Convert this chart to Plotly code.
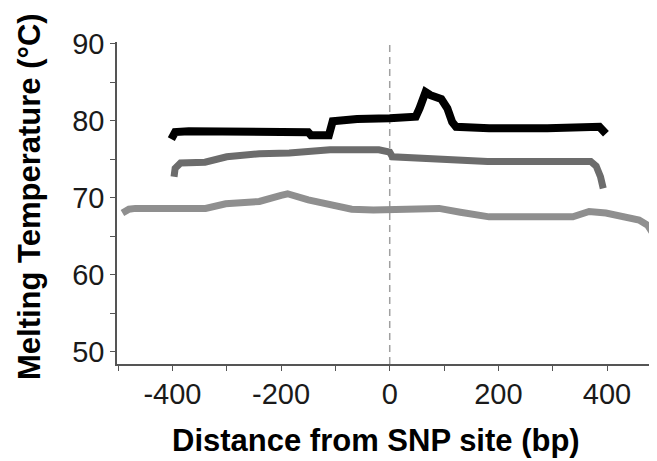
import plotly.graph_objects as go

# Series 1 (black)
black_x = [-402, -395, -370, -300, -150, -145, -112, -105, -60, 0, 48, 55, 66, 75, 95, 106, 115, 122, 183, 290, 386, 398]
black_y = [77.6, 78.5, 78.6, 78.5, 78.5, 78.1, 78.1, 79.9, 80.2, 80.3, 80.5, 81.6, 83.7, 83.3, 82.8, 81.6, 79.8, 79.2, 79.0, 79.0, 79.2, 78.3]

# Series 2 (dark gray)
dgray_x = [-397, -395, -385, -340, -300, -240, -185, -110, -20, 0, 5, 60, 100, 180, 370, 380, 388, 393]
dgray_y = [72.7, 73.8, 74.5, 74.6, 75.3, 75.7, 75.8, 76.2, 76.2, 75.9, 75.3, 75.1, 74.8, 74.7, 74.7, 74.1, 72.7, 71.2]

# Series 3 (light gray)
lgray_x = [-492, -480, -468, -400, -339, -302, -240, -200, -188, -150, -100, -70, -30, 0, 91, 130, 183, 337, 367, 398, 437, 459, 475, 484]
lgray_y = [68.0, 68.5, 68.6, 68.6, 68.6, 69.2, 69.5, 70.3, 70.5, 69.7, 68.9, 68.5, 68.4, 68.4, 68.6, 68.1, 67.5, 67.5, 68.2, 68.0, 67.5, 67.1, 66.4, 65.4]

x_tickvals = [-400, -200, 0, 200, 400]
x_ticktext = ["-400", "-200", "0", "200", "400"]
y_tickvals = [50, 60, 70, 80, 90]
y_ticktext = ["50", "60", "70", "80", "90"]

x_range = [-502, 492]
y_range = [48.4, 90.2]
x_title = "Distance from SNP site (bp)"
y_title = "Melting Temperature (°C)"

# page has an 8px body margin; figure coordinates are page coordinates minus 8
OFF = 8
W, H = 657 - OFF, 461 - OFF
ml, mr, mt, mb = 117 - OFF, 0, 42 - OFF, 461 - 364
pw, ph = W - ml - mr, H - mt - mb

fig = go.Figure()
fig.add_trace(go.Scatter(x=lgray_x, y=lgray_y, mode="lines",
                         line=dict(color="#8f8f8f", width=7), showlegend=False))
fig.add_trace(go.Scatter(x=dgray_x, y=dgray_y, mode="lines",
                         line=dict(color="#6c6c6c", width=7), showlegend=False))
fig.add_trace(go.Scatter(x=black_x, y=black_y, mode="lines",
                         line=dict(color="#000000", width=8), showlegend=False))

fig.add_shape(type="line", xref="x", yref="paper", x0=0, x1=0, y0=0, y1=1,
              line=dict(color="#a0a0a0", width=1.5, dash="7px,5px"), layer="below")

font = "Liberation Sans, Arial, sans-serif"
fig.update_layout(
    width=W, height=H,
    margin=dict(l=ml, r=mr, t=mt, b=mb),
    paper_bgcolor="white", plot_bgcolor="white",
    font=dict(family=font, color="#1a1a1a"),
    xaxis=dict(range=x_range, showgrid=False, zeroline=False,
               showline=True, linecolor="#555555", linewidth=1.5,
               ticks="outside", ticklen=5, tickwidth=1.2, tickcolor="#555555",
               tickmode="array", tickvals=x_tickvals, ticktext=x_ticktext,
               tickfont=dict(size=29, family=font),
               minor=dict(tick0=0, dtick=100, ticks="outside", ticklen=5, tickwidth=1.2, tickcolor="#555555"),
               ticklabelstandoff=-2),
    yaxis=dict(range=y_range, showgrid=False, zeroline=False,
               showline=True, linecolor="#555555", linewidth=1.5,
               ticks="outside", ticklen=5, tickwidth=1.2, tickcolor="#555555",
               tickmode="array", tickvals=y_tickvals, ticktext=y_ticktext,
               tickfont=dict(size=29, family=font),
               minor=dict(tick0=50, dtick=5, ticks="outside", ticklen=5, tickwidth=1.2, tickcolor="#555555")),
)

fig.add_annotation(text="<b>" + x_title + "</b>", xref="paper", yref="paper",
                   x=(376 - 117) / pw, y=(364 - 440) / ph, showarrow=False,
                   font=dict(size=31, family=font, color="#000000"),
                   xanchor="center", yanchor="middle")
fig.add_annotation(text="<b>" + y_title + "</b>", xref="paper", yref="paper",
                   x=(29 - 117) / pw, y=(364 - 197) / ph, showarrow=False,
                   textangle=-90,
                   font=dict(size=31, family=font, color="#000000"),
                   xanchor="center", yanchor="middle")

fig.write_html("out.html")
